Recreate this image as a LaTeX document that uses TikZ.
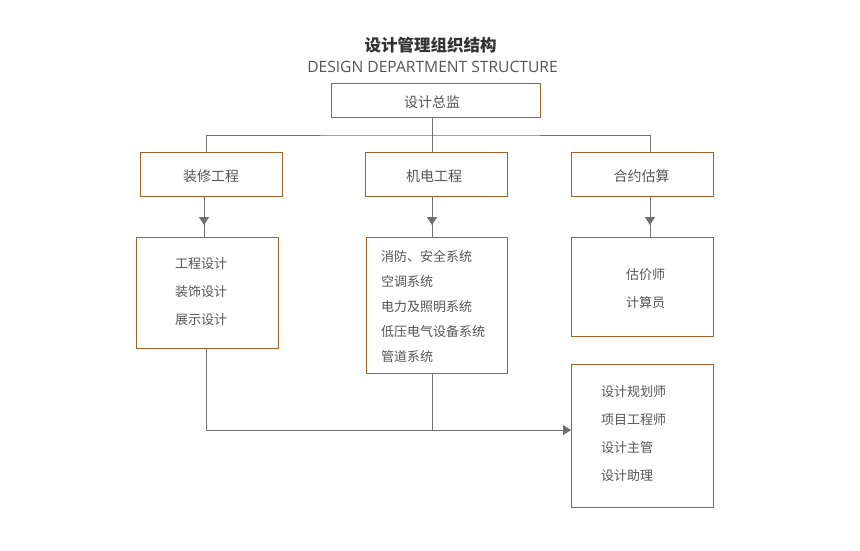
\documentclass[tikz,border=0pt]{standalone}
\usepackage{fontspec}
\setmainfont{Noto Sans CJK SC}
\newfontfamily\latinf{Open Sans}
\usetikzlibrary{arrows.meta}
\definecolor{bord}{RGB}{160,98,40}
\definecolor{txt}{RGB}{85,85,85}
\definecolor{ln}{RGB}{112,112,112}
\tikzset{
  box/.style={draw=bord, line width=1pt, inner sep=0pt, anchor=north west},
  lbl/.style={text=txt, font=\fontsize{14}{16}\selectfont, inner sep=0pt},
  item/.style={text=txt, font=\fontsize{13}{15}\selectfont, inner sep=0pt, anchor=west},
  conn/.style={draw=ln, line width=1pt},
  tip/.style={-{Triangle[width=10pt,length=8pt]}}
}
\begin{document}
\begin{tikzpicture}[x=1pt,y=-1pt]
\useasboundingbox[fill=white] (0,0) rectangle (860,550);
\node[inner sep=0pt, text=black!80, font=\fontsize{16.5}{18}\selectfont\bfseries] (title) at (430.5,45) {设计管理组织结构};
\node[inner sep=0pt, text=txt, font=\latinf\fontsize{15.6}{17}\selectfont] (sub) at (432.5,67) {DESIGN DEPARTMENT STRUCTURE};
% boxes
\node[box, minimum width=209pt, minimum height=34pt] (top) at (331,83) {};
\node[lbl] (topl) at (432,102) {设计总监};
\node[box, minimum width=142pt, minimum height=44pt] (a) at (140,152) {};
\node[lbl] (al) at (211,176.5) {装修工程};
\node[box, minimum width=142pt, minimum height=44pt] (b) at (365,152) {};
\node[lbl] (bl) at (434,176.5) {机电工程};
\node[box, minimum width=142pt, minimum height=44pt] (c) at (571,152) {};
\node[lbl] (cl) at (641.5,176.5) {合约估算};
\node[box, minimum width=142pt, minimum height=111pt] (a2) at (136,237) {};
\node[box, minimum width=141pt, minimum height=136pt] (b2) at (366,237) {};
\node[box, minimum width=142pt, minimum height=99pt] (c2) at (571,237) {};
\node[box, minimum width=142pt, minimum height=143pt] (d2) at (571,364) {};
% items
\node[item] (a21) at (175,264) {工程设计};
\node[item] (a22) at (175,292) {装饰设计};
\node[item] (a23) at (175,320) {展示设计};
\node[item] (b21) at (381,256) {消防、安全系统};
\node[item] (b22) at (381,282) {空调系统};
\node[item] (b23) at (381,307) {电力及照明系统};
\node[item] (b24) at (381,332) {低压电气设备系统};
\node[item] (b25) at (381,357) {管道系统};
\node[item] (c21) at (626,275) {估价师};
\node[item] (c22) at (626,303) {计算员};
\node[item] (d21) at (601,392) {设计规划师};
\node[item] (d22) at (601,420) {项目工程师};
\node[item] (d23) at (601,448) {设计主管};
\node[item] (d24) at (601,476) {设计助理};
% connectors
\coordinate (hb) at (432,135);
\draw[conn] (top.south -| hb) -- (hb);
\draw[conn] (a.north -| 206,0) |- (hb) -| (c.north -| 650,0);
\draw[conn] (hb) -- (b.north -| hb);
\draw[conn, tip] (a.south -| 204,0) -- (204,225);
\draw[conn] (a.south -| 204,0) -- (a2.north -| 204,0);
\draw[conn, tip] (b.south -| hb) -- (432,225);
\draw[conn] (b.south -| hb) -- (b2.north -| hb);
\draw[conn, tip] (c.south -| 650,0) -- (650,225);
\draw[conn] (c.south -| 650,0) -- (c2.north -| 650,0);
\coordinate (jn) at (432,430);
\draw[conn, tip] (a2.south -| 206,0) |- (d2.west |- jn);
\draw[conn] (b2.south -| hb) -- (jn);
\end{tikzpicture}
\end{document}
